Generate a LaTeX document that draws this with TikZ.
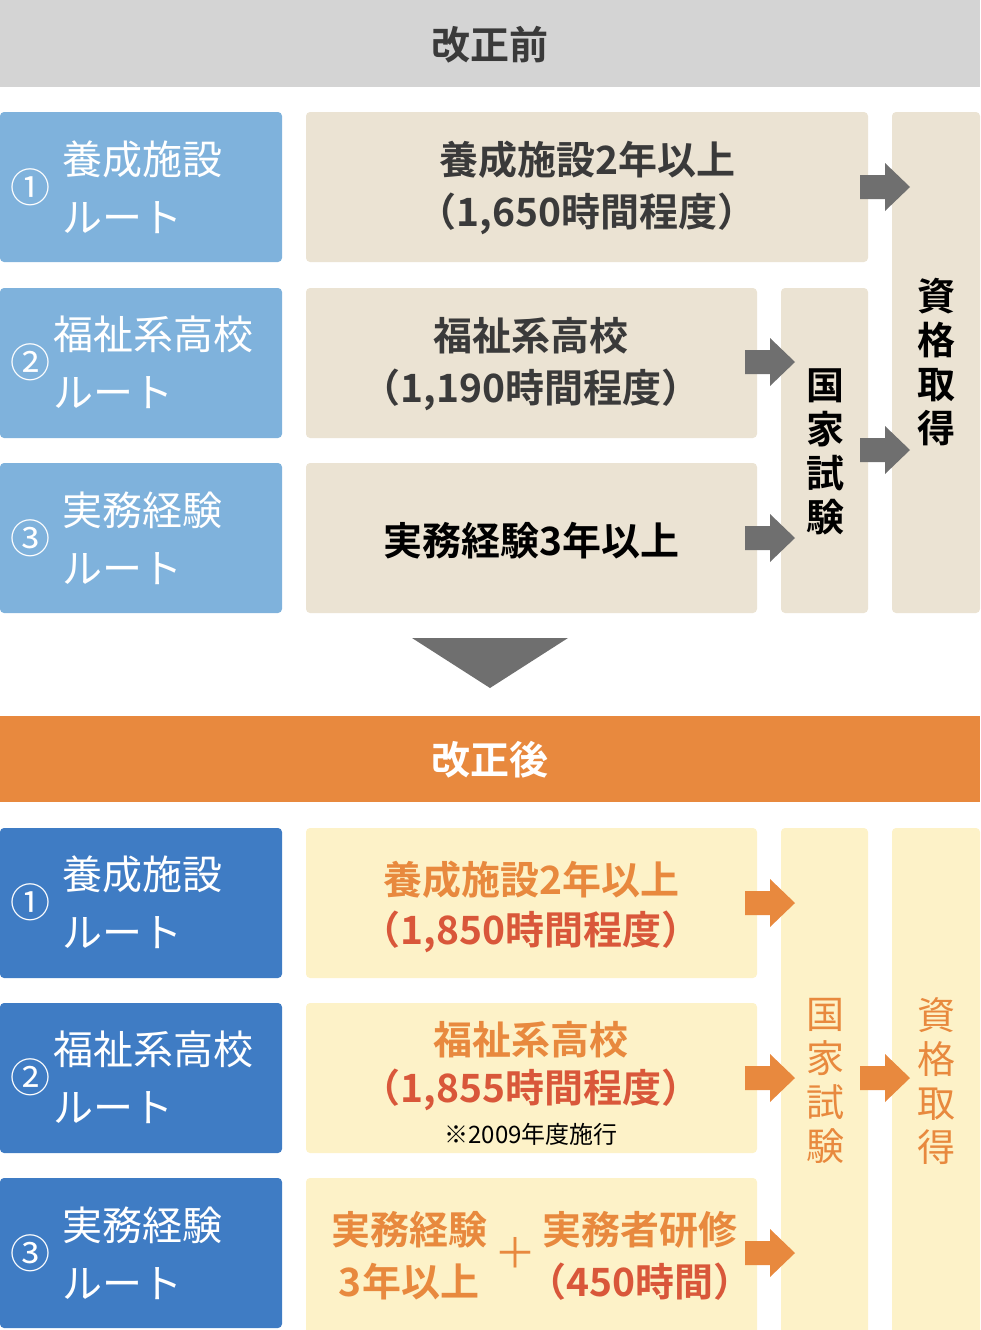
\documentclass[tikz,border=0pt]{standalone}
\usepackage{fontspec}
\setmainfont{Noto Sans CJK JP}
\newfontfamily\jpb{Noto Sans CJK JP Bold}
\definecolor{hdgray}{HTML}{D4D4D4}
\definecolor{lblue}{HTML}{7FB2DC}
\definecolor{dblue}{HTML}{3F7CC4}
\definecolor{beige}{HTML}{EBE3D3}
\definecolor{cream}{HTML}{FDF2C8}
\definecolor{orng}{HTML}{E8893E}
\definecolor{rd}{HTML}{D9573A}
\definecolor{agray}{HTML}{6F6F6F}
\definecolor{txt}{HTML}{3A3A3A}
\tikzset{
  box/.style={rounded corners=4pt},
  lbl/.style={text=white,font=\fontsize{40}{58}\selectfont,anchor=west,align=left,inner sep=0},
  num/.style={text=white,font=\fontsize{40}{40}\selectfont,inner sep=0},
  mid/.style={font=\jpb\fontsize{39}{52}\selectfont,align=center,inner sep=0},
  vert/.style={font=\jpb\fontsize{38}{44}\selectfont,align=center,inner sep=0},
  pics/barrow/.style={code={\fill[#1] (-25,-12) -- (0,-12) -- (0,-24) -- (25,0) -- (0,24) -- (0,12) -- (-25,12) -- cycle;}},
}
\begin{document}
\begin{tikzpicture}[x=1pt,y=-1pt]
\useasboundingbox (0,0) rectangle (980,1330);
\fill[hdgray] (0,0) rectangle (980,87);
\node[font=\jpb\fontsize{39}{39}\selectfont,text=txt] (h1) at (490,45) {改正前};
\foreach \y in {112,288,463}{\fill[lblue,box] (0,\y) rectangle (282,\y+150);}
\node[num] (n1) at (30,187) {①};
\node[lbl] (l1) at (62,187) {養成施設\\ルート};
\node[num] (n2) at (30,362) {②};
\node[lbl] (l2) at (53,362) {福祉系高校\\ルート};
\node[num] (n3) at (30,538) {③};
\node[lbl] (l3) at (62,538) {実務経験\\ルート};
\fill[beige,box] (306,112) rectangle (868,262);
\fill[beige,box] (306,288) rectangle (757,438);
\fill[beige,box] (306,463) rectangle (757,613);
\fill[beige,box] (781,288) rectangle (868,613);
\fill[beige,box] (892,112) rectangle (980,613);
\node[mid,text=txt] (m1) at (587,188) {養成施設2年以上\\（1,650時間程度）};
\node[mid,text=txt] (m2) at (531,364) {福祉系高校\\（1,190時間程度）};
\node[mid,text=black] (m3) at (531,541) {実務経験3年以上};
\node[vert,text=black] (k1) at (825,452) {国\\家\\試\\験};
\node[vert,text=black] (s1) at (936,362) {資\\格\\取\\得};
\foreach \x/\y in {885/187,770/362,770/538,885/450}{\pic at (\x,\y) {barrow=agray};}
\fill[agray] (412,638) -- (568,638) -- (490,688) -- cycle;
\fill[orng] (0,716) rectangle (980,802);
\node[font=\jpb\fontsize{39}{39}\selectfont,text=white] (h2) at (490,760) {改正後};
\foreach \y in {828,1003,1178}{\fill[dblue,box] (0,\y) rectangle (282,\y+150);}
\node[num] (p1) at (30,902) {①};
\node[lbl] (q1) at (62,902) {養成施設\\ルート};
\node[num] (p2) at (30,1077) {②};
\node[lbl] (q2) at (53,1077) {福祉系高校\\ルート};
\node[num] (p3) at (30,1253) {③};
\node[lbl] (q3) at (62,1253) {実務経験\\ルート};
\fill[cream,box] (306,828) rectangle (757,978);
\fill[cream,box] (306,1003) rectangle (757,1153);
\fill[cream,box] (306,1178) rectangle (757,1340);
\fill[cream,box] (781,828) rectangle (868,1340);
\fill[cream,box] (892,828) rectangle (980,1340);
\node[mid,text=orng] (r1a) at (531,880) {養成施設2年以上};
\node[mid,text=rd] (r1b) at (531,932) {（1,850時間程度）};
\node[mid,text=orng] (r2a) at (531,1040) {福祉系高校};
\node[mid,text=rd] (r2b) at (531,1090) {（1,855時間程度）};
\node[font=\fontsize{24}{24}\selectfont,text=black] (r2c) at (531,1134) {※2009年度施行};
\node[mid,text=orng] (r3a) at (409,1256) {実務経験\\3年以上};
\node[font=\fontsize{42}{42}\selectfont,text=orng] (pl) at (515,1253) {＋};
\node[mid,text=orng] (r3b) at (640,1230) {実務者研修};
\node[mid,text=rd] (r3c) at (640,1282) {（450時間）};
\node[font=\fontsize{38}{44}\selectfont,align=center,inner sep=0,text=orng] (k2) at (825,1081) {国\\家\\試\\験};
\node[font=\fontsize{38}{44}\selectfont,align=center,inner sep=0,text=orng] (s2) at (936,1081) {資\\格\\取\\得};
\foreach \x/\y in {770/903,770/1078,770/1253,885/1078}{\pic at (\x,\y) {barrow=orng};}
\end{tikzpicture}
\end{document}
